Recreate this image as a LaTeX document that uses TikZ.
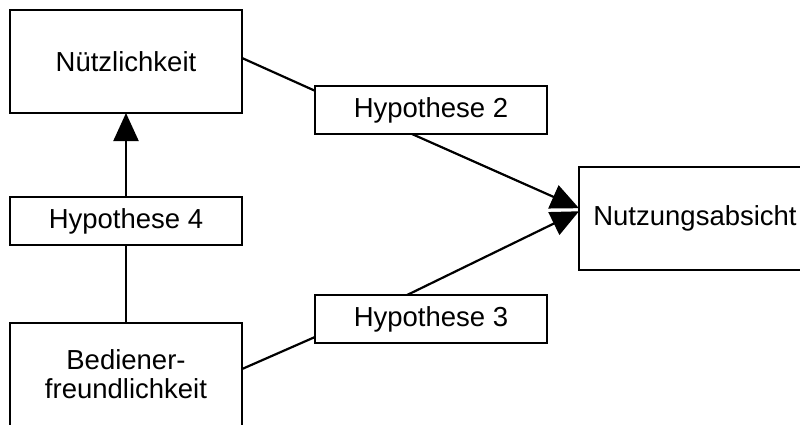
\documentclass[tikz,border=0pt]{standalone}
\usepackage{fontspec}
\setmainfont{Liberation Sans}
\usetikzlibrary{arrows.meta,calc}

\begin{document}
\begin{tikzpicture}[x=1pt,y=-1pt,
  every node/.style={font=\fontsize{27.5}{29}\selectfont, align=center, outer sep=0pt, inner sep=0pt},
  bigbox/.style={draw, line width=2.2pt, minimum width=232pt, minimum height=103pt, anchor=north west},
  hypbox/.style={draw, line width=1.6pt, minimum width=232pt, minimum height=48pt, anchor=north west},
  link/.style={line width=2.2pt},
  arrowlink/.style={line width=2.2pt, -{Triangle[length=28pt,width=25pt]}}]

  \useasboundingbox (0,0) rectangle (800,424);

  % constructs
  \node[bigbox] (nutz) at (10,10) {Nützlichkeit};
  \node[bigbox] (absicht) at (579,167) {Nutzungsabsicht};
  \node[bigbox] (bedien) at (10,323) {Bediener-\\freundlichkeit};

  % hypotheses
  \node[hypbox] (h2) at (315,86) {Hypothese 2};
  \node[hypbox] (h4) at (10,197) {Hypothese 4};
  \node[hypbox] (h3) at (315,295) {Hypothese 3};

  % Nützlichkeit -> Nutzungsabsicht
  \draw[link] ($(nutz.north east)!0.466!(nutz.south east)$) -- ($(h2.north west)!0.10!(h2.south west)$);
  \draw[arrowlink] ($(h2.south west)!0.418!(h2.south east)$) -- ($(absicht.north west)!0.40!(absicht.south west)$);

  % Bedienerfreundlichkeit -> Nützlichkeit
  \draw[link] (bedien.north) -- (h4.south);
  \draw[arrowlink] (h4.north) -- (nutz.south);

  % Bedienerfreundlichkeit -> Nutzungsabsicht
  \draw[link] ($(bedien.north east)!0.447!(bedien.south east)$) -- ($(h3.north west)!0.875!(h3.south west)$);
  \draw[arrowlink] ($(h3.north west)!0.397!(h3.north east)$) -- ($(absicht.north west)!0.43!(absicht.south west)$);
\end{tikzpicture}
\end{document}
